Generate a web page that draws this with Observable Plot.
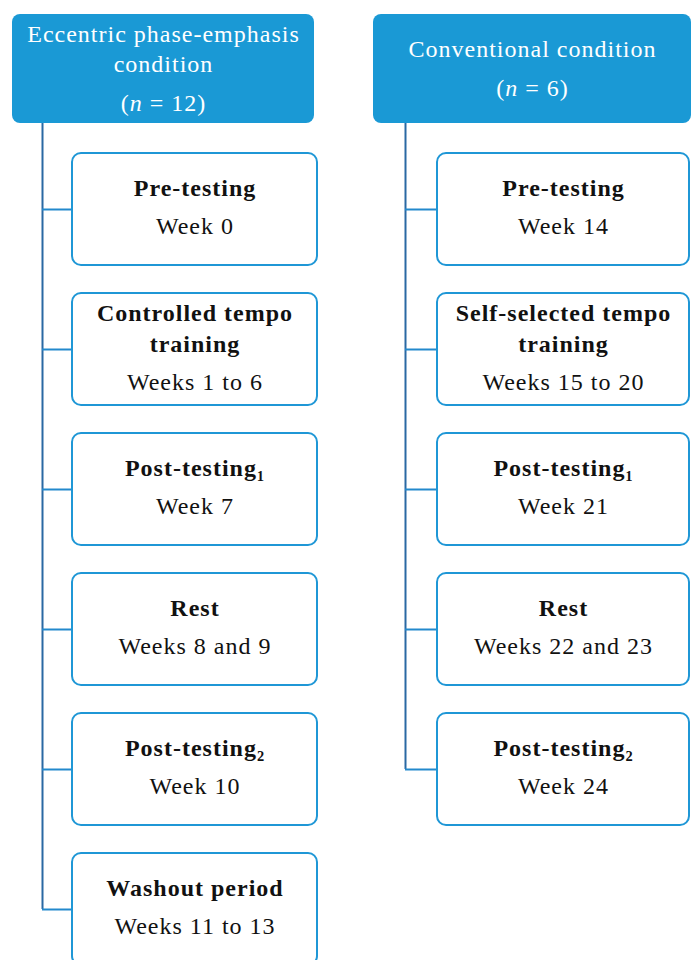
<!DOCTYPE html>
<html>
<head>
<meta charset="utf-8">
<script src="https://cdn.jsdelivr.net/npm/d3@7"></script>
<script src="https://cdn.jsdelivr.net/npm/@observablehq/plot@0.6"></script>
<style>
  html, body { margin: 0; padding: 0; background: #fff; }
  #chart svg { display: block; }
</style>
</head>
<body>
<div id="chart"></div>
<script>
// ---- data ----
const conditions = ["Eccentric phase-emphasis\ncondition", "Conventional condition"];
const sampleSizes = [12, 6];
const leftStages = ["Pre-testing", "Controlled tempo\ntraining", "Post-testing\u2081", "Rest", "Post-testing\u2082", "Washout period"];
const leftWeeks = ["Week 0", "Weeks 1 to 6", "Week 7", "Weeks 8 and 9", "Week 10", "Weeks 11 to 13"];
const rightStages = ["Pre-testing", "Self-selected tempo\ntraining", "Post-testing\u2081", "Rest", "Post-testing\u2082"];
const rightWeeks = ["Week 14", "Weeks 15 to 20", "Week 21", "Weeks 22 and 23", "Week 24"];

// ---- layout ----
const W = 692, H = 960;
const FONT = "'Liberation Serif', 'DejaVu Serif', serif";
const FS = 24;
const cols = [
  {hx1: 12, hx2: 314, spine: 42, bx1: 72, bx2: 317},
  {hx1: 373, hx2: 691, spine: 405, bx1: 437, bx2: 689}
];
const headerTop = 14, headerBottom = 123;
const boxTop0 = 153, boxH = 112, boxStep = 140;
const titleLH = 31, weekGap = 40, headLH = 30, headGap = 41;

const headers = conditions.map((c, i) => {
  const lines = c.split("\n").length;
  const block = (lines - 1) * headLH + headGap;
  const cy = (headerTop + headerBottom) / 2;
  const firstY = cy - block / 2 - 1;
  return {
    ...cols[i], title: c, n: `(n = ${sampleSizes[i]})`,
    titleY: firstY + (lines - 1) * headLH / 2,
    nY: firstY + (lines - 1) * headLH + headGap
  };
});

const boxes = [];
[[leftStages, leftWeeks], [rightStages, rightWeeks]].forEach(([stages, weeks], ci) => {
  stages.forEach((s, i) => {
    const top = boxTop0 + i * boxStep;
    const lines = s.split("\n").length;
    const titleY = top + 33;
    boxes.push({
      ...cols[ci], col: ci, stage: s, week: weeks[i],
      y1: top, y2: top + boxH, mid: top + boxH / 2,
      titleY, weekY: titleY + (lines - 1) * titleLH / 2 + weekGap
    });
  });
});

const spines = cols.map((c, ci) => {
  const bs = boxes.filter(b => b.col === ci);
  return {x: c.spine, y1: headerBottom, y2: bs[bs.length - 1].mid};
});

const plot = Plot.plot({
  width: W, height: H,
  margin: 0,
  x: {domain: [0, W], range: [0, W], axis: null},
  y: {domain: [0, H], range: [0, H], axis: null},
  style: {fontFamily: FONT, background: "#fff", letterSpacing: "1px"},
  marks: [
    Plot.rect(headers, {x1: "hx1", x2: "hx2", y1: () => headerTop, y2: () => headerBottom, fill: "#1a99d5", rx: 8}),
    Plot.ruleX(spines, {x: "x", y1: "y1", y2: "y2", stroke: "#2a69a3", strokeWidth: 2}),
    Plot.ruleY(boxes, {y: "mid", x1: "spine", x2: "bx1", stroke: "#2389cc", strokeWidth: 2}),
    Plot.rect(boxes, {x1: "bx1", x2: "bx2", y1: "y1", y2: "y2", fill: "#fff", stroke: "#1f97d6", strokeWidth: 2, rx: 9}),
    Plot.text(headers, {x: d => (d.hx1 + d.hx2) / 2, y: "titleY", text: "title", fill: "#fff", fontSize: FS, lineHeight: headLH / FS, lineAnchor: "middle"}),
    Plot.text(headers, {x: d => (d.hx1 + d.hx2) / 2, y: "nY", text: "n", fill: "#fff", fontSize: FS, lineAnchor: "middle"}),
    Plot.text(boxes, {x: d => (d.bx1 + d.bx2) / 2, y: "titleY", text: "stage", fill: "#111", fontWeight: "bold", fontSize: FS, lineHeight: titleLH / FS, lineAnchor: "middle"}),
    Plot.text(boxes, {x: d => (d.bx1 + d.bx2) / 2, y: "weekY", text: "week", fill: "#111", fontSize: FS, lineAnchor: "middle"})
  ]
});

// italic "n" in sample size labels
d3.select(plot).selectAll("text").each(function() {
  const t = this.textContent;
  const m = /^\(n = (\d+)\)$/.exec(t);
  if (m) {
    const sel = d3.select(this);
    sel.text("");
    sel.append("tspan").text("(");
    sel.append("tspan").attr("font-style", "italic").text("n");
    sel.append("tspan").text(` = ${m[1]})`);
  }
});

document.getElementById("chart").appendChild(plot);
</script>
</body>
</html>
